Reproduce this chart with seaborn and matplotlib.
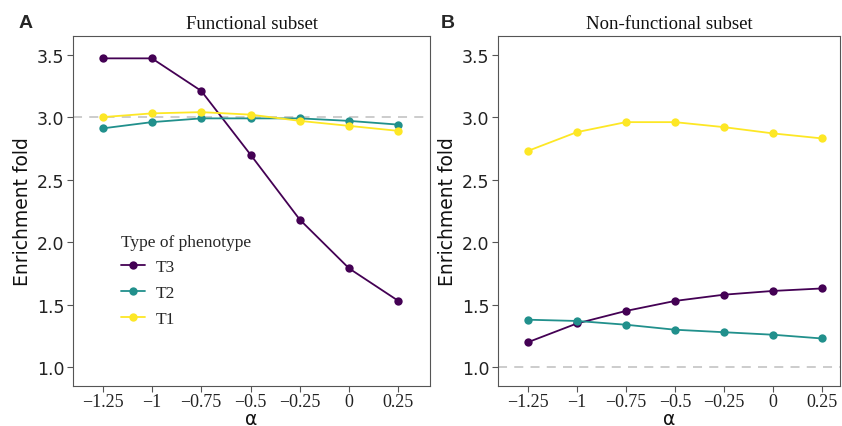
import matplotlib
matplotlib.use("Agg")
import matplotlib.pyplot as plt
import seaborn as sns
import pandas as pd

alpha = [-1.25, -1.0, -0.75, -0.5, -0.25, 0.0, 0.25]
alpha_labels = ["\u22121.25", "\u22121", "\u22120.75", "\u22120.5", "\u22120.25", "0", "0.25"]
types = ["T3", "T2", "T1"]

func_T3 = [3.47, 3.47, 3.21, 2.70, 2.18, 1.79, 1.53]
func_T2 = [2.91, 2.96, 2.99, 2.99, 2.99, 2.97, 2.94]
func_T1 = [3.00, 3.03, 3.04, 3.02, 2.97, 2.93, 2.89]

nonf_T3 = [1.20, 1.35, 1.45, 1.53, 1.58, 1.61, 1.63]
nonf_T2 = [1.38, 1.37, 1.34, 1.30, 1.28, 1.26, 1.23]
nonf_T1 = [2.73, 2.88, 2.96, 2.96, 2.92, 2.87, 2.83]

ref_lines = [3.0, 1.0]
titles = ["Functional subset", "Non-functional subset"]
panel_letters = ["A", "B"]
palette = {"T3": "#440154", "T2": "#21908C", "T1": "#FDE725"}


def make_df(t3, t2, t1):
    rows = []
    for name, vals in zip(types, [t3, t2, t1]):
        for a, v in zip(alpha, vals):
            rows.append({"alpha": a, "fold": v, "type": name})
    return pd.DataFrame(rows)


dfs = [make_df(func_T3, func_T2, func_T1), make_df(nonf_T3, nonf_T2, nonf_T1)]

sns.set_theme(style="white")
fig = plt.figure(figsize=(8.42, 4.27), dpi=100)
axes = [fig.add_axes([0.0867, 0.0937, 0.424, 0.820]),
        fig.add_axes([0.5914, 0.0937, 0.406, 0.820])]

serif = ["Liberation Serif", "DejaVu Serif"]
sans = ["DejaVu Sans"]
spine_col = "#555555"
xlims = [(-1.40, 0.41), (-1.403, 0.342)]

for i, ax in enumerate(axes):
    ax.axhline(ref_lines[i], color="#c8c8c8", lw=1.3, ls=(0, (5, 4)), zorder=0)
    sns.lineplot(data=dfs[i], x="alpha", y="fold", hue="type", hue_order=types,
                 palette=palette, marker="o", markersize=6, markeredgewidth=0,
                 linewidth=1.3, ax=ax, legend=(i == 0))
    ax.set_xlim(*xlims[i])
    ax.set_ylim(0.85, 3.65)
    ax.set_xticks(alpha)
    ax.set_xticklabels(alpha_labels, fontfamily=serif, fontsize=13, color="#222222")
    ax.set_yticks([1.0, 1.5, 2.0, 2.5, 3.0, 3.5])
    ax.set_yticklabels(["1.0", "1.5", "2.0", "2.5", "3.0", "3.5"],
                       fontfamily=sans, fontsize=12.5, color="#222222")
    ax.tick_params(axis="both", which="both", length=4, width=0.8, color=spine_col,
                   bottom=True, left=True, pad=2)
    ax.tick_params(axis="x", pad=1)
    for s in ax.spines.values():
        s.set_color(spine_col)
        s.set_linewidth(0.8)
    ax.set_xlabel("\u03b1", fontfamily=sans, fontsize=13.5, labelpad=-1, color="#111111")
    ax.set_ylabel("Enrichment fold", fontfamily=sans, fontsize=13.5, labelpad=4, color="#111111")
    ax.set_title(titles[i], fontfamily=serif, fontsize=13.5, pad=6, color="#111111")

fig.text(0.022, 0.945, panel_letters[0], fontfamily=["Liberation Sans"], fontweight="bold",
         fontsize=14, va="center", ha="left")
fig.text(0.524, 0.945, panel_letters[1], fontfamily=["Liberation Sans"], fontweight="bold",
         fontsize=14, va="center", ha="left")

leg = axes[0].legend(title="Type of phenotype", loc="upper left",
                     bbox_to_anchor=(0.115, 0.455), frameon=False,
                     prop={"family": serif, "size": 12.5}, handlelength=1.4,
                     labelspacing=0.55, handletextpad=0.6, borderaxespad=0)
leg.get_title().set_fontfamily(serif)
leg.get_title().set_fontsize(12.5)
leg._legend_box.align = "left"

fig.savefig("out.png", dpi=100)
